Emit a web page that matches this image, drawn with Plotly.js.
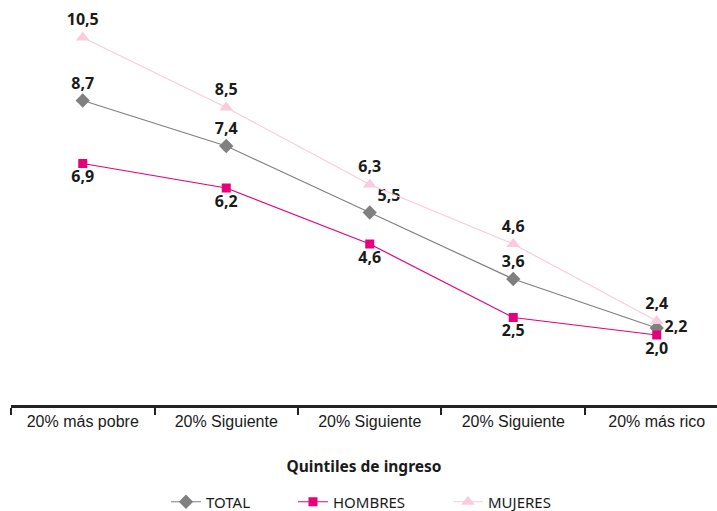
<!DOCTYPE html>
<html><head><meta charset="utf-8">
<script src="https://cdn.plot.ly/plotly-3.0.1.min.js"></script>
<style>html,body{margin:0;padding:0;background:#fff}#chart{width:717px;height:511px}</style>
</head><body><div id="chart"></div>
<script>
const categories = ["20% más pobre","20% Siguiente","20% Siguiente","20% Siguiente","20% más rico"];
const positions = [0,1,2,3,4];
const boundaries = [-0.5,0.5,1.5,2.5,3.5,4.5];
const total = [8.7,7.4,5.5,3.6,2.2];
const hombres = [6.9,6.2,4.6,2.5,2.0];
const mujeres = [10.5,8.5,6.3,4.6,2.4];

const labelFont = {family:"Noto Sans, Open Sans, sans-serif", size:16, color:"#1a1a1a"};
const traces = [
 {name:"TOTAL", legend:"legend", x:positions, y:total, mode:"lines+markers+text",
  line:{color:"#808080", width:1.2}, marker:{symbol:"diamond", size:11, color:"#808080"},
  texttemplate:"<b>%{y:.1f}</b>", textfont:labelFont,
  textposition:["top center","top center","top right","top center","middle right"]},
 {name:"HOMBRES", legend:"legend2", x:positions, y:hombres, mode:"lines+markers+text",
  line:{color:"#E6007E", width:1.2}, marker:{symbol:"square", size:9, color:"#E6007E"},
  texttemplate:"<b>%{y:.1f}</b>", textfont:labelFont, textposition:"bottom center"},
 {name:"MUJERES", legend:"legend3", x:positions, y:mujeres, mode:"lines+markers+text",
  line:{color:"#F9CCDD", width:1.2}, marker:{symbol:"triangle-up", size:12, color:"#F9CCDD"},
  texttemplate:"<b>%{y:.1f}</b>", textfont:labelFont, textposition:"top center"}
];
const legendFont = {family:"Noto Sans, Open Sans, sans-serif", size:15, color:"#1a1a1a"};
function leg(x){
  return {orientation:"h", x:x, xanchor:"left", yref:"container", y:0.0176, yanchor:"middle",
    font:legendFont, bgcolor:"rgba(0,0,0,0)", borderwidth:0};
}
const layout = {
  width:717, height:511, separators:",.",
  margin:{l:11, r:0, t:10, b:106},
  paper_bgcolor:"#fff", plot_bgcolor:"#fff",
  showlegend:true,
  xaxis:{range:[-0.5,4.42], tickvals:positions, ticktext:categories, ticks:"", automargin:false,
    showline:true, linecolor:"#222", linewidth:2.5, showgrid:false, zeroline:false,
    tickfont:{family:"Liberation Sans, Arial, sans-serif", size:16, color:"#1a1a1a"},
    minor:{tickvals:boundaries, ticks:"outside", ticklen:7, tickwidth:2, tickcolor:"#222", showgrid:false},
    title:{text:"<b>Quintiles de ingreso</b>", font:{family:"Noto Sans, Open Sans, sans-serif", size:15.5, color:"#1a1a1a"}, standoff:33},
    fixedrange:true},
  yaxis:{range:[0,11.286], visible:false, showgrid:false, zeroline:false, automargin:false},
  legend:leg(0.2195), legend2:leg(0.3994), legend3:leg(0.619)
};
Plotly.newPlot("chart", traces, layout, {displayModeBar:false, staticPlot:true});
</script></body></html>
